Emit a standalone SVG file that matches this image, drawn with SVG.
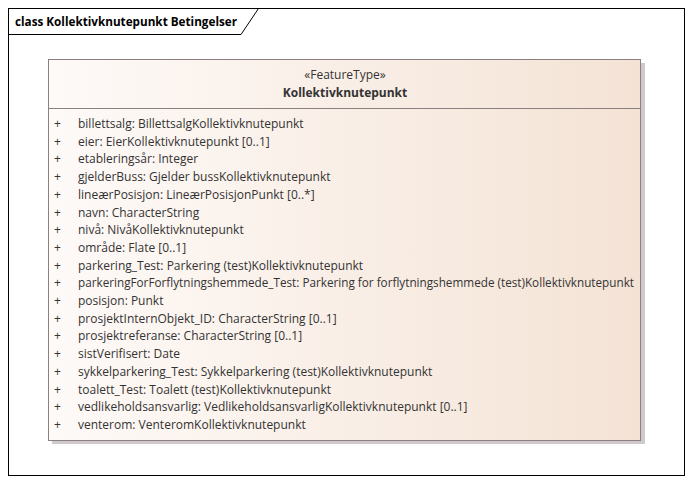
<svg xmlns="http://www.w3.org/2000/svg" width="692" height="483" viewBox="0 0 692 483">
<defs>
<linearGradient id="fill" x1="0" y1="0" x2="1" y2="0">
<stop offset="0" stop-color="#fefaf8"/>
<stop offset="1" stop-color="#f4e3d5"/>
</linearGradient>
<style>
text{font-family:"Open Sans","Liberation Sans",sans-serif;font-size:12px;fill:#333}
.t{font-weight:bold;fill:#000}
.n{font-weight:bold}
.a text{fill:#333}
</style>
</defs>
<rect x="0" y="0" width="692" height="483" fill="#fff"/>
<g id="frame">
<rect x="8.5" y="8.5" width="676" height="467" fill="none" stroke="#000" stroke-width="1"/>
<path d="M8.5 34.5 H241 L258.5 8.5" fill="none" stroke="#000"/>
<text class="t" x="15" y="26" textLength="222" lengthAdjust="spacingAndGlyphs">class Kollektivknutepunkt Betingelser</text>
</g>
<g id="Kollektivknutepunkt">
<rect x="52" y="63" width="593" height="381" fill="#cfc8cc"/>
<rect x="48.5" y="59.5" width="592" height="381" fill="url(#fill)" stroke="#8a8080"/>
<line x1="48.5" y1="108.5" x2="640.5" y2="108.5" stroke="#8a8080"/>
<text x="345" y="79" text-anchor="middle">«FeatureType»</text>
<text class="n" x="345" y="97" text-anchor="middle">Kollektivknutepunkt</text>
<g class="a">
<text x="54" y="128">+</text><text x="78" y="128">billettsalg: BillettsalgKollektivknutepunkt</text>
<text x="54" y="145.7">+</text><text x="78" y="145.7">eier: EierKollektivknutepunkt [0..1]</text>
<text x="54" y="163.4">+</text><text x="78" y="163.4">etableringsår: Integer</text>
<text x="54" y="181.1">+</text><text x="78" y="181.1">gjelderBuss: Gjelder bussKollektivknutepunkt</text>
<text x="54" y="198.8">+</text><text x="78" y="198.8">lineærPosisjon: LineærPosisjonPunkt [0..*]</text>
<text x="54" y="216.5">+</text><text x="78" y="216.5">navn: CharacterString</text>
<text x="54" y="234.2">+</text><text x="78" y="234.2">nivå: NivåKollektivknutepunkt</text>
<text x="54" y="251.9">+</text><text x="78" y="251.9">område: Flate [0..1]</text>
<text x="54" y="269.6">+</text><text x="78" y="269.6">parkering_Test: Parkering (test)Kollektivknutepunkt</text>
<text x="54" y="287.3">+</text><text x="78" y="287.3" textLength="556" lengthAdjust="spacingAndGlyphs">parkeringForForflytningshemmede_Test: Parkering for forflytningshemmede (test)Kollektivknutepunkt</text>
<text x="54" y="305">+</text><text x="78" y="305">posisjon: Punkt</text>
<text x="54" y="322.7">+</text><text x="78" y="322.7">prosjektInternObjekt_ID: CharacterString [0..1]</text>
<text x="54" y="340.4">+</text><text x="78" y="340.4">prosjektreferanse: CharacterString [0..1]</text>
<text x="54" y="358.1">+</text><text x="78" y="358.1">sistVerifisert: Date</text>
<text x="54" y="375.8">+</text><text x="78" y="375.8">sykkelparkering_Test: Sykkelparkering (test)Kollektivknutepunkt</text>
<text x="54" y="393.5">+</text><text x="78" y="393.5">toalett_Test: Toalett (test)Kollektivknutepunkt</text>
<text x="54" y="411.2">+</text><text x="78" y="411.2">vedlikeholdsansvarlig: VedlikeholdsansvarligKollektivknutepunkt [0..1]</text>
<text x="54" y="428.9">+</text><text x="78" y="428.9">venterom: VenteromKollektivknutepunkt</text>
</g>
</g>
<g id="connectors"/>
</svg>
